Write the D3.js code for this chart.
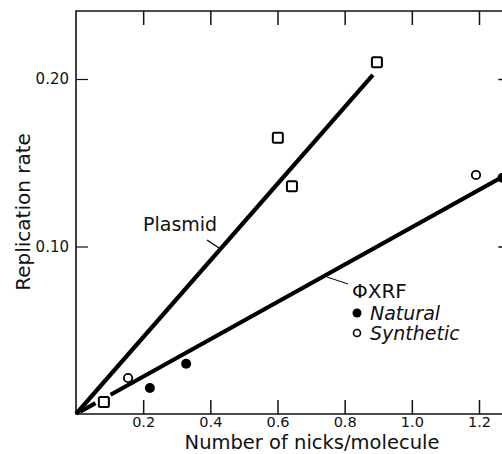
<!DOCTYPE html>
<html>
<head>
<meta charset="utf-8">
<script src="https://cdn.jsdelivr.net/npm/d3@7"></script>
<style>
  body { margin: 0; background: #fff; }
  svg { display: block; }
  text { font-family: "DejaVu Sans", sans-serif; fill: #111; }
</style>
</head>
<body>
<div id="chart"></div>
<script>
// data
const plasmidX = [0.083, 0.601, 0.643, 0.896];
const plasmidY = [0.0072, 0.165, 0.136, 0.210];
const naturalX = [0.220, 0.328, 1.270];
const naturalY = [0.0155, 0.030, 0.141];
const syntheticX = [0.155, 1.191];
const syntheticY = [0.0215, 0.1427];
// fitted lines (slope through origin) and their drawn extents
const plasmidSlope = 0.229;
const plasmidRange = [0, 0.884];
const xrfSlope = 0.1115;
const xrfRanges = [[0.012, 0.058], [0.103, 1.275]];
const xTicks = [0.2, 0.4, 0.6, 0.8, 1.0, 1.2];
const yTicks = [0.10, 0.20];

const W = 502, H = 454;
const svg = d3.select("#chart").append("svg")
  .attr("width", W).attr("height", H);

const x = d3.scaleLinear().domain([0, 1.2]).range([76, 479]);
const y = d3.scaleLinear().domain([0, 0.2]).range([414, 79]);
const yTop = y(0.2406), xRight = x(1.2755);

// frame
svg.append("path")
  .attr("d", `M${xRight},${yTop}H${x(0)}V${y(0)}H${xRight}`)
  .attr("fill", "none").attr("stroke", "#111").attr("stroke-width", 1.6);
svg.append("line")
  .attr("x1", xRight).attr("x2", xRight).attr("y1", yTop).attr("y2", y(0))
  .attr("stroke", "#111").attr("stroke-width", 1.6);

// bottom axis (inward ticks)
const xAxis = svg.append("g")
  .attr("transform", `translate(0,${y(0)})`)
  .call(d3.axisBottom(x).tickValues(xTicks).tickSizeInner(-14).tickSizeOuter(0)
    .tickPadding(3).tickFormat(d3.format(".1f")));
xAxis.select(".domain").remove();
xAxis.selectAll("line").attr("stroke", "#111").attr("stroke-width", 1.5);
xAxis.selectAll("text").attr("font-size", 14.5).attr("font-family", "DejaVu Sans").attr("fill", "#111");

// top axis ticks
const xTop = svg.append("g")
  .attr("transform", `translate(0,${yTop})`)
  .call(d3.axisTop(x).tickValues(xTicks).tickSizeInner(-14).tickSizeOuter(0).tickFormat(""));
xTop.select(".domain").remove();
xTop.selectAll("line").attr("stroke", "#111").attr("stroke-width", 1.5);

// left axis
const yAxis = svg.append("g")
  .attr("transform", `translate(${x(0)},0)`)
  .call(d3.axisLeft(y).tickValues(yTicks).tickSizeInner(-12).tickSizeOuter(0)
    .tickPadding(7).tickFormat(d3.format(".2f")));
yAxis.select(".domain").remove();
yAxis.selectAll("line").attr("stroke", "#111").attr("stroke-width", 1.2);
yAxis.selectAll("text").attr("font-size", 15).attr("font-family", "DejaVu Sans").attr("fill", "#111");

// right axis ticks
const yRight = svg.append("g")
  .attr("transform", `translate(${xRight},0)`)
  .call(d3.axisRight(y).tickValues(yTicks).tickSizeInner(-6).tickSizeOuter(0).tickFormat(""));
yRight.select(".domain").remove();
yRight.selectAll("line").attr("stroke", "#111").attr("stroke-width", 1.5);

// fitted lines
const line = d3.line().x(d => x(d[0])).y(d => y(d[1]));
svg.append("path")
  .datum(plasmidRange.map(v => [v, v * plasmidSlope]))
  .attr("d", line).attr("fill", "none").attr("stroke", "#000").attr("stroke-width", 4.2);
xrfRanges.forEach(r => {
  svg.append("path")
    .datum(r.map(v => [v, v * xrfSlope]))
    .attr("d", line).attr("fill", "none").attr("stroke", "#000").attr("stroke-width", 4.2);
});

// points
svg.selectAll(".sq").data(plasmidX).enter().append("rect")
  .attr("x", (d) => x(d) - 5).attr("y", (d, i) => y(plasmidY[i]) - 5)
  .attr("width", 10).attr("height", 10).attr("rx", 1.5)
  .attr("fill", "#fff").attr("stroke", "#000").attr("stroke-width", 2);
svg.selectAll(".nat").data(naturalX).enter().append("circle")
  .attr("cx", d => x(d)).attr("cy", (d, i) => y(naturalY[i])).attr("r", 5)
  .attr("fill", "#000");
svg.selectAll(".syn").data(syntheticX).enter().append("circle")
  .attr("cx", d => x(d)).attr("cy", (d, i) => y(syntheticY[i])).attr("r", 4.2)
  .attr("fill", "#fff").attr("stroke", "#000").attr("stroke-width", 1.8);

// labels
svg.append("text").attr("x", 143).attr("y", 231).attr("font-size", 19).text("Plasmid");
svg.append("line").attr("x1", 207).attr("y1", 240).attr("x2", 219).attr("y2", 248)
  .attr("stroke", "#000").attr("stroke-width", 1.3);
svg.append("text").attr("x", 352).attr("y", 298).attr("font-size", 20).text("ΦXRF");
svg.append("line").attr("x1", 327).attr("y1", 277).attr("x2", 348).attr("y2", 284)
  .attr("stroke", "#000").attr("stroke-width", 1);

// legend
svg.append("circle").attr("cx", 357).attr("cy", 313).attr("r", 4.5).attr("fill", "#000");
svg.append("text").attr("x", 370).attr("y", 320).attr("font-size", 19)
  .attr("font-style", "italic").text("Natural");
svg.append("circle").attr("cx", 357).attr("cy", 333).attr("r", 3.5)
  .attr("fill", "#fff").attr("stroke", "#000").attr("stroke-width", 1.6);
svg.append("text").attr("x", 370).attr("y", 340).attr("font-size", 19)
  .attr("font-style", "italic").text("Synthetic");

// axis titles
svg.append("text").attr("x", 312).attr("y", 449).attr("text-anchor", "middle")
  .attr("font-size", 19.5).text("Number of nicks/molecule");
svg.append("text").attr("transform", "translate(30,212) rotate(-90)")
  .attr("text-anchor", "middle").attr("font-size", 20).text("Replication rate");
</script>
</body>
</html>
